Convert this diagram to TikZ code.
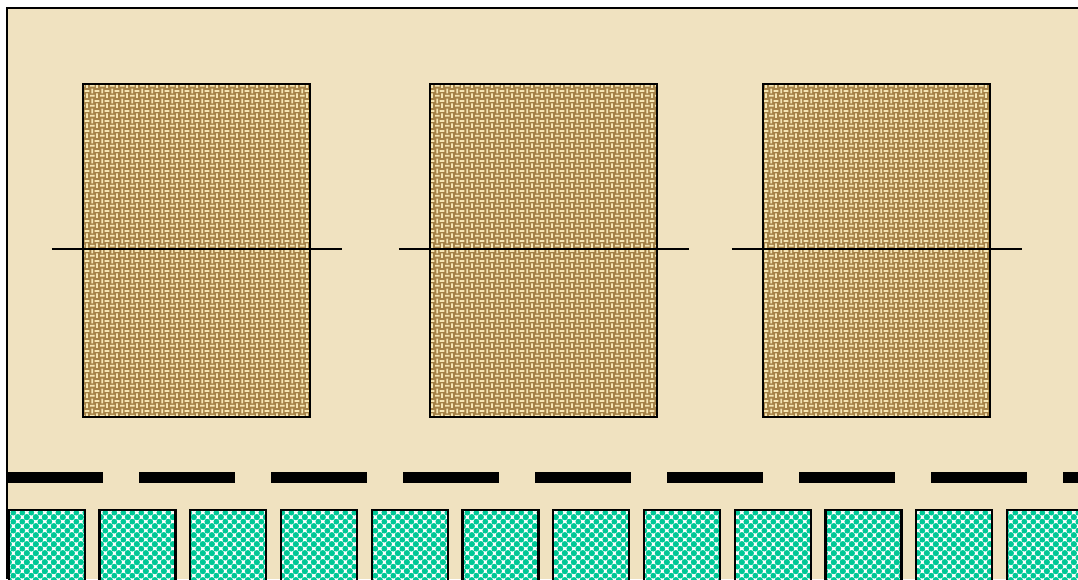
\documentclass[tikz,border=0pt]{standalone}
\usepackage{tikz}
\usetikzlibrary{patterns, calc}

\definecolor{parchment}{RGB}{240,226,192}
\definecolor{burlap}{RGB}{165,130,72}
\definecolor{weave}{RGB}{245,230,180}
\definecolor{mint}{RGB}{0,200,150}

%% basket weave for the sacks
\pgfdeclarepatternformonly{basket}{\pgfpointorigin}{\pgfpoint{7.2pt}{7.2pt}}{\pgfpoint{7.2pt}{7.2pt}}{
  \pgfsetlinewidth{1.3pt}
  \pgfpathmoveto{\pgfpoint{0pt}{1.8pt}}\pgfpathlineto{\pgfpoint{3.6pt}{1.8pt}}
  \pgfpathmoveto{\pgfpoint{5.4pt}{0pt}}\pgfpathlineto{\pgfpoint{5.4pt}{3.6pt}}
  \pgfpathmoveto{\pgfpoint{3.6pt}{5.4pt}}\pgfpathlineto{\pgfpoint{7.2pt}{5.4pt}}
  \pgfpathmoveto{\pgfpoint{1.8pt}{3.6pt}}\pgfpathlineto{\pgfpoint{1.8pt}{7.2pt}}
  \pgfusepath{stroke}}

%% bubbles for the tiles
\pgfdeclarepatternformonly{bubbles}{\pgfpointorigin}{\pgfpoint{6.6pt}{6.6pt}}{\pgfpoint{6.6pt}{6.6pt}}{
  \pgfpathcircle{\pgfpoint{0pt}{0pt}}{2.2pt}
  \pgfpathcircle{\pgfpoint{6.6pt}{0pt}}{2.2pt}
  \pgfpathcircle{\pgfpoint{0pt}{6.6pt}}{2.2pt}
  \pgfpathcircle{\pgfpoint{6.6pt}{6.6pt}}{2.2pt}
  \pgfpathcircle{\pgfpoint{3.3pt}{3.3pt}}{2.2pt}
  \pgfusepath{fill}}

\begin{document}
\begin{tikzpicture}[
  x=0.025cm, y=-0.025cm,
  sack/.style={rectangle, draw=black, line width=1.5pt,
               preaction={fill=burlap},
               pattern=basket, pattern color=weave,
               minimum width=5.675cm, minimum height=8.325cm, inner sep=0pt},
  tile/.style={rectangle, draw=black, line width=1.5pt,
               preaction={fill=white},
               pattern=bubbles, pattern color=mint,
               minimum width=1.9cm, minimum height=2.2cm, inner sep=0pt,
               anchor=north west},
  cut/.style={line width=1.5pt, black},
  rail/.style={line width=7.8pt, black, dash pattern=on 2.4cm off 0.9cm}
]
\useasboundingbox (0,0) rectangle (1078,579);
\clip (0,0) rectangle (1078,579);
%% Parchment and frame
\fill[parchment] (7,8) rectangle (1078,579);
\draw[line width=1.6pt] (7,579) -- (7,8) -- (1078,8);
%% Sacks
\node[sack] (s1) at (196.5,250.5) {};
\node[sack] (s2) at (543.5,250.5) {};
\node[sack] (s3) at (876.5,250.5) {};
%% Cross lines
\foreach \s in {s1,s2,s3}{
  \draw[cut] ($(\s.west)+(-30,-1.5)$) -- ($(\s.east)+(31,-1.5)$);}
%% Dashed rail
\coordinate (railL) at (7,477.5);
\coordinate (railR) at (1078,477.5);
\draw[rail] (railL) -- (railR);
%% Tiles
\foreach \i in {0,...,11}{
  \node[tile] (t\i) at ({7.7+90.75*\i},508.7) {};}
\end{tikzpicture}
\end{document}
